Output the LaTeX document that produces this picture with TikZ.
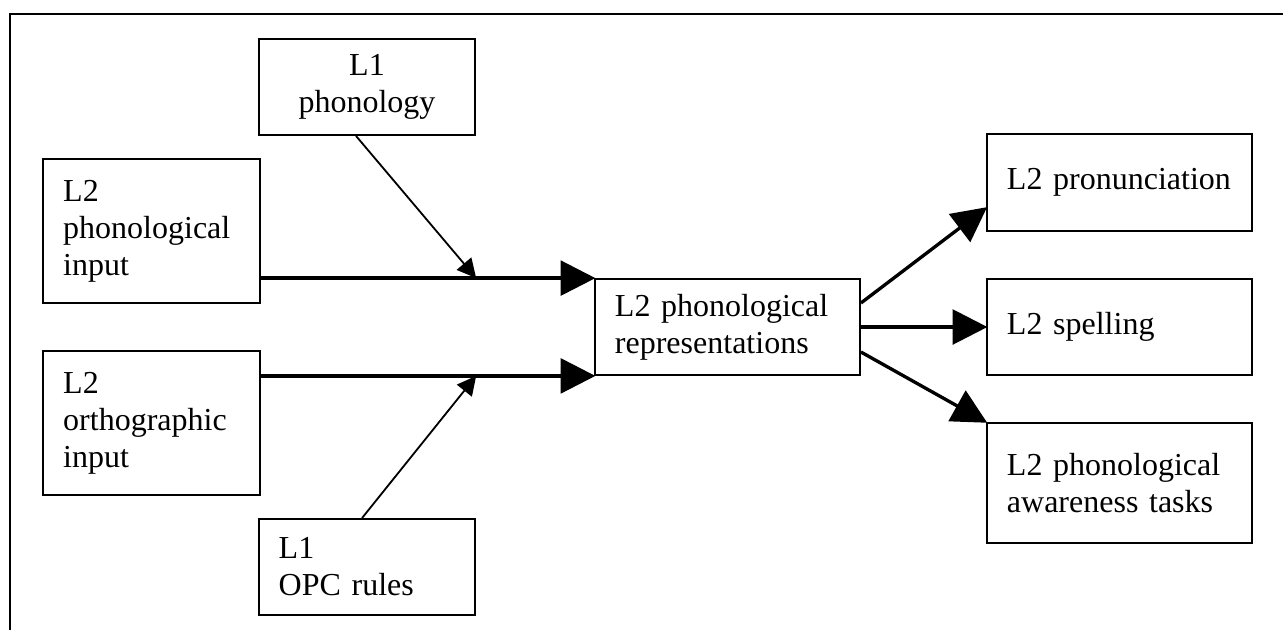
\documentclass[tikz,border=0pt]{standalone}
\usepackage{fontspec}
\setmainfont{Liberation Serif}
\usetikzlibrary{arrows.meta,calc}
\tikzset{
  box/.style={draw, line width=0.68pt, inner xsep=7.5pt, inner ysep=0pt,
    font=\fontsize{12}{13.9}\selectfont, align=left},
  narrowbox/.style={box, minimum width=81.2pt, text width=66.2pt},
  widebox/.style={box, minimum width=99.4pt, text width=84.4pt},
  thickarrow/.style={line width=1.25pt, -{Triangle[length=13pt,width=13pt]}, shorten >=-0.5pt},
  thinarrow/.style={line width=0.68pt, -{Triangle[length=7.1pt,width=7.1pt]}},
  frame/.style={line width=0.65pt}
}
\begin{document}
\begin{tikzpicture}[x=0.375pt,y=-0.375pt]
\useasboundingbox (0,0) rectangle (1283,630);
\draw[frame] (10,630) -- (10,14) -- (1283,14);

\node[narrowbox, minimum height=36pt, align=center] (l1ph) at (367,87) {L1\\phonology};
\node[narrowbox, minimum height=54pt] (l2pi) at (151.5,231) {L2\\phonological\\input};
\node[narrowbox, minimum height=54pt] (l2oi) at (151.5,423) {L2\\orthographic\\input};
\node[narrowbox, minimum height=36pt] (l1opc) at (367,567) {L1\\OPC rules};
\node[widebox, minimum height=36pt] (cen) at (727.5,327) {L2 phonological\\representations};
\node[widebox, minimum height=36.4pt] (pron) at (1119.5,182.5) {L2 pronunciation};
\node[widebox, minimum height=36pt] (spell) at (1119.5,327) {L2 spelling};
\node[widebox, minimum height=45pt] (aware) at (1119.5,483) {L2 phonological\\awareness tasks};

\coordinate (j1) at (l1ph.east |- cen.north west);
\coordinate (j2) at (l1opc.east |- cen.south west);

\draw[thickarrow] (l2pi.south east |- cen.north west) -- (cen.north west);
\draw[thickarrow] (l2oi.south east |- cen.south west) -- (cen.south west);
\draw[thinarrow] ($(l1ph.south)+(-11,0)$) -- (j1);
\draw[thinarrow] ($(l1opc.north)+(-5,0)$) -- (j2);

\draw[thickarrow] ($(cen.east)+(0,-24)$) -- ($(pron.south west)+(0,-24)$);
\draw[thickarrow] (cen.east) -- (spell.west);
\draw[thickarrow] ($(cen.east)+(0,25)$) -- (aware.north west);
\end{tikzpicture}
\end{document}
